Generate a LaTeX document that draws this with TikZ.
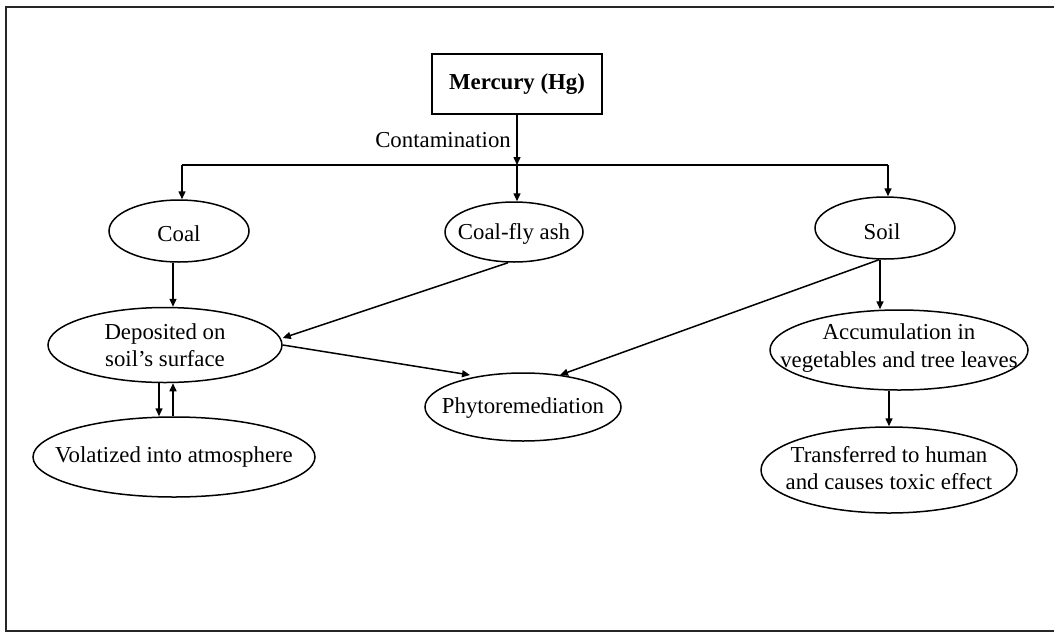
\documentclass[tikz,border=0pt]{standalone}
\usepackage{fontspec}
\setmainfont{Liberation Serif}
\usetikzlibrary{shapes.geometric,arrows.meta,calc}
\begin{document}
\begin{tikzpicture}[x=1pt,y=-1pt,
  every node/.style={font=\fontsize{22.8}{27.5}\selectfont},
  oval/.style={draw,ellipse,line width=1.5pt,inner sep=0pt},
  txt/.style={align=center,inner sep=0pt},
  arr/.style={line width=1.5pt,-{Triangle[length=8pt,width=7pt]}},
  ln/.style={line width=1.5pt}]
\useasboundingbox (0,0) rectangle (1054,632);
\draw[line width=2pt,black!85] (6,7) rectangle (1070,631);
% nodes
\node[draw,rectangle,line width=1.5pt,minimum width=170pt,minimum height=60pt,inner sep=0pt,font=\fontsize{22.8}{27.5}\selectfont\bfseries] (merc) at (517,84) {Mercury (Hg)};
\node[anchor=base east,inner sep=0pt] (cont) at (511,147) {Contamination};
\node[oval,minimum width=140pt,minimum height=62pt,label={[txt,yshift=-3pt]center:Coal}] (coal) at (179,231) {};
\node[oval,minimum width=138pt,minimum height=60pt,label={[txt,yshift=-2pt]center:Coal-fly ash}] (fly) at (514,232) {};
\node[oval,minimum width=140pt,minimum height=62pt,label={[txt,xshift=-3pt,yshift=-4pt]center:Soil}] (soil) at (885,228) {};
\node[oval,minimum width=234pt,minimum height=75pt,label={[txt]center:Deposited on\\soil’s surface}] (dep) at (165,345) {};
\node[oval,minimum width=282pt,minimum height=80pt,label={[txt]center:Volatized into atmosphere}] (vol) at (174,457) {};
\node[oval,minimum width=196pt,minimum height=68pt,label={[txt,yshift=-1pt]center:Phytoremediation}] (phy) at (523,407) {};
\node[oval,minimum width=258pt,minimum height=80pt,label={[txt,yshift=2pt]center:Accumulation in\\vegetables and tree leaves}] (acc) at (899,350) {};
\node[oval,minimum width=256pt,minimum height=86pt,label={[txt,yshift=2pt]center:Transferred to human\\and causes toxic effect}] (tr) at (889,470) {};
% connectors
\coordinate (J) at (517,165);
\coordinate (cL) at (182,165);
\coordinate (cR) at (888,165);
\draw[arr] (merc.south) -- (J);
\draw[ln] (cL) -- (cR);
\draw[arr] (cL) -- (cL |- coal.north);
\draw[arr] (J) -- (J |- fly.north);
\draw[arr] (cR) -- (cR |- soil.north);
\draw[arr] ([xshift=-6pt]coal.south) -- ([xshift=-6pt]coal.south |- dep.north);
\draw[arr] ([xshift=-6pt]dep.south) -- ([xshift=-6pt]dep.south |- vol.north);
\draw[arr] ([xshift=8pt]dep.south |- vol.north) -- ([xshift=8pt]dep.south);
\draw[arr] ([xshift=-6pt]fly.south) -- ([yshift=7pt]dep.east);
\draw[arr] (dep.east) -- ($(phy.center)+(-53,-32)$);
\draw[arr] ([xshift=-6pt]soil.south) -- ($(phy.center)+(37,-32)$);
\draw[arr] ([xshift=-5pt]soil.south) -- ([xshift=-5pt]soil.south |- acc.north);
\draw[arr] (tr.north |- acc.south) -- (tr.north);
\end{tikzpicture}
\end{document}
